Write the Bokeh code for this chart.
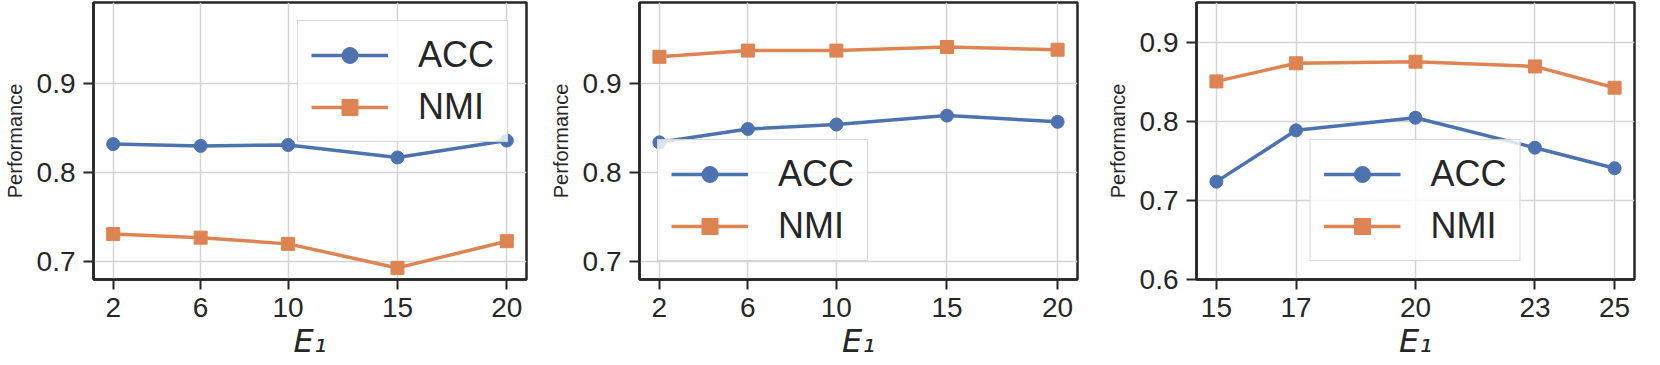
from bokeh.plotting import figure
from bokeh.layouts import row
from bokeh.models import Range1d, FixedTicker, NumeralTickFormatter
from bokeh.embed import file_html
from bokeh.resources import INLINE

# ---- data ----
x12 = [2, 6, 10, 15, 20]
acc1 = [0.832, 0.830, 0.831, 0.817, 0.836]
nmi1 = [0.731, 0.727, 0.720, 0.693, 0.723]
acc2 = [0.834, 0.849, 0.854, 0.864, 0.857]
nmi2 = [0.930, 0.937, 0.937, 0.941, 0.938]
x3 = [15, 17, 20, 23, 25]
acc3 = [0.724, 0.789, 0.805, 0.767, 0.741]
nmi3 = [0.851, 0.874, 0.876, 0.870, 0.843]
yticks12 = [0.7, 0.8, 0.9]
yticks3 = [0.6, 0.7, 0.8, 0.9]
series_names = ["ACC", "NMI"]

BLUE = "#4C72B0"
ORANGE = "#DD8452"
DARK = "#262626"
GRID = "#d4d4d4"
FONT = "Liberation Sans"


def make_panel(x, acc, nmi, xr, yr, yticks, legend_loc, bl, fw, br):
    frame_h = 280
    bt, bb = 2, 80
    p = figure(width=bl + fw + br, height=bt + frame_h + bb,
               output_backend="svg", toolbar_location=None,
               x_range=Range1d(*xr), y_range=Range1d(*yr),
               min_border_left=bl, min_border_right=br,
               min_border_top=bt, min_border_bottom=bb)
    p.background_fill_color = "white"
    p.border_fill_color = "white"
    p.outline_line_color = DARK
    p.outline_line_width = 2.5
    p.outline_line_alpha = 1.0

    xa = p.xaxis[0]
    ya = p.yaxis[0]
    xa.ticker = FixedTicker(ticks=x)
    ya.ticker = FixedTicker(ticks=yticks)
    ya.formatter = NumeralTickFormatter(format="0.0")
    for ax in (xa, ya):
        ax.axis_line_color = DARK
        ax.axis_line_width = 2.5
        ax.major_tick_line_color = DARK
        ax.major_tick_line_width = 2
        ax.major_tick_out = 10
        ax.major_tick_in = 0
        ax.minor_tick_line_color = None
        ax.major_label_text_font = FONT
        ax.major_label_text_font_size = "28px"
        ax.major_label_text_color = DARK
        ax.axis_label_text_color = DARK
    xa.major_label_standoff = 8
    ya.major_label_standoff = 8
    ya.axis_label = "Performance"
    ya.axis_label_text_font = FONT
    ya.axis_label_text_font_size = "20px"
    ya.axis_label_text_font_style = "normal"
    ya.axis_label_standoff = 8
    xa.axis_label = "E\u2081"
    xa.axis_label_text_font = "DejaVu Sans"
    xa.axis_label_text_font_size = "32px"
    xa.axis_label_text_font_style = "italic"
    xa.axis_label_standoff = 2

    p.xgrid.grid_line_color = GRID
    p.ygrid.grid_line_color = GRID
    p.xgrid.grid_line_width = 1.5
    p.ygrid.grid_line_width = 1.5

    p.line(x, acc, color=BLUE, line_width=3.5, legend_label=series_names[0])
    p.scatter(x, acc, marker="circle", size=13, color=BLUE, legend_label=series_names[0])
    p.line(x, nmi, color=ORANGE, line_width=3.5, legend_label=series_names[1])
    p.scatter(x, nmi, marker="square", size=13, color=ORANGE, legend_label=series_names[1])

    lg = p.legend[0]
    lg.location = legend_loc
    lg.margin = 18
    lg.padding = 13
    lg.spacing = 10
    lg.glyph_width = 77
    lg.glyph_height = 40
    lg.label_standoff = 30
    lg.label_text_font = FONT
    lg.label_text_font_size = "36px"
    lg.label_text_color = DARK
    lg.border_line_color = "#cccccc"
    lg.border_line_width = 1.5
    lg.border_line_alpha = 0.8
    lg.background_fill_color = "white"
    lg.background_fill_alpha = 0.8
    return p


p1 = make_panel(x12, acc1, nmi1, (1.1, 20.9), (0.68, 0.991), yticks12, "top_right", 90, 436, 8)
p2 = make_panel(x12, acc2, nmi2, (1.1, 20.9), (0.68, 0.991), yticks12, "bottom_left", 105, 438, 10)
p3 = make_panel(x3, acc3, nmi3, (14.5, 25.5), (0.6, 0.951), yticks3, "bottom_center", 109, 438, 8)

layout = row(p1, p2, p3)
open("out.html", "w").write(file_html(layout, INLINE))
